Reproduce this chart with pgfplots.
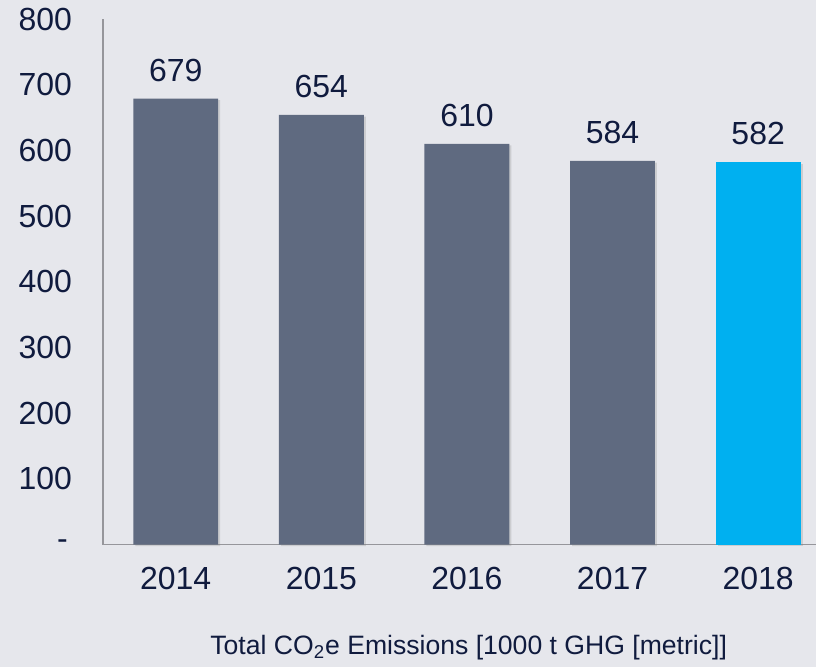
\documentclass[border=0pt]{standalone}
\usepackage{pgfplots}
\pgfplotsset{compat=1.18}
\usepackage{fontspec}
\setmainfont{Liberation Sans}
\usetikzlibrary{shadows}
\definecolor{bgcol}{RGB}{230,231,236}
\definecolor{barcol}{RGB}{95,106,128}
\definecolor{hicol}{RGB}{0,176,240}
\definecolor{txtcol}{RGB}{16,27,62}
\definecolor{axcol}{RGB}{150,150,155}

\begin{document}
\begin{tikzpicture}
% background, sized as the reference (1px = 0.5pt)
\fill[bgcol] (-51.5pt,-61pt) rectangle (357pt,272.5pt);
\begin{axis}[
  at={(0pt,0pt)}, anchor=south west,
  width=357pt, height=263pt, scale only axis,
  xmin=-0.5, xmax=4.4, ymin=0, ymax=800,
  axis x line*=bottom, axis y line*=left,
  axis line style={draw=axcol, line width=0.6pt, -},
  major tick length=0pt,
  xtick={0,1,2,3,4},
  xticklabels={2014,2015,2016,2017,2018},
  ytick={0,100,200,300,400,500,600,700,800},
  yticklabels={-\kern2pt,100,200,300,400,500,600,700,800},
  tick label style={font=\fontsize{16}{18}\selectfont, text=txtcol},
  yticklabel style={xshift=-12pt},
  xticklabel style={yshift=-7.7pt},
  /pgf/number format/assume math mode=true,
  ybar, bar width=0.583, bar shift=0pt,
  nodes near coords,
  nodes near coords style={font=\fontsize{16}{18}\selectfont, text=txtcol, yshift=5pt},
  clip=false,
]
\addplot[fill=barcol, draw=none, drop shadow={shadow xshift=1pt, shadow yshift=-0.8pt, opacity=0.25}]
  coordinates {(0,679) (1,654) (2,610) (3,584)};
\addplot[fill=hicol, draw=none, drop shadow={shadow xshift=1pt, shadow yshift=-0.8pt, opacity=0.25}]
  coordinates {(4,582)};
\end{axis}
\node[font=\fontsize{13.3}{15}\selectfont, text=txtcol] at (183pt,-51.5pt)
  {Total CO\textsubscript{2}e Emissions [1000 t GHG [metric]]};
\end{tikzpicture}
\end{document}
